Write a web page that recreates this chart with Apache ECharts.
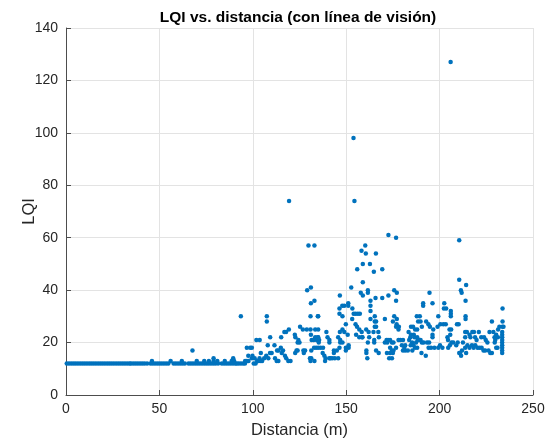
<!DOCTYPE html>
<html>
<head>
<meta charset="utf-8">
<script src="https://cdn.jsdelivr.net/npm/echarts@6/dist/echarts.min.js"></script>
<style>
  html, body { margin: 0; padding: 0; background: #ffffff; }
  #chart { width: 552px; height: 444px; }
</style>
</head>
<body>
<div id="chart"></div>
<script>
// LQI measurements vs. distance, line-of-sight link. Each entry: [distance (m), LQI]

// 0-96 m: almost flat at LQI 12
const nearPts = [
  [0.4,12],[1.6,12],[2.8,12],[4.0,12],[5.2,12],[6.4,12],[7.6,12],[8.8,12],[10.0,12],[11.2,12],
  [12.4,12],[13.6,12],[14.8,12],[16.0,12],[17.2,12],[18.4,12],[19.6,12],[20.8,12],[22.0,12],[23.2,12],
  [24.4,12],[25.6,12],[26.8,12],[28.0,12],[29.2,12],[30.4,12],[31.6,12],[32.8,12],[34.0,12],[34.8,12],
  [36.0,12],[37.2,12],[38.4,12],[39.6,12],[40.8,12],[42.0,12],[43.4,12],
  [45.2,12],[46.4,12],[47.6,12],[48.8,12],[50.0,12],[51.2,12],[52.4,12],[53.6,12],[54.8,12],
  [57.6,12],[58.8,12],[60.0,12],[61.2,12],[62.4,12],[63.6,12],
  [65.6,12],[66.8,12],[68.0,12],[69.2,12],[70.4,12],[71.6,12],
  [72.8,12],[74.0,12],[75.2,12],[76.4,12],[77.6,12],[78.8,12],[80.0,12],[81.4,12],
  [83.4,12],[84.6,12],[85.8,12],[87.0,12],[88.2,12],[89.4,12],[90.6,12],[91.4,12],
  [92.4,12],[93.6,12],[94.8,12],[95.8,12],
  [46,13],[56,13],[62,13],[67.7,17],[70,13],[74,13],[76.5,13],[79,13],[79,14],[81,13],
  [85,13],[88.7,13],[89.5,14],[90,13],[93.6,30],[95.9,13],[96.8,18],[96.8,13],[97.7,13],
  [98.6,18],[99.5,18],[97.6,15],[99.5,14],[99.8,15]
];

// 100-175 m: spread grows, first large outliers
const midPts = [
  [119.4,74],[129.8,57],[133,57],[129.1,40],[131.1,41],[133,36],[131.1,35],[130.9,30],[134.8,30],
  [107.5,30],[107.5,28],[125.3,26],[126.8,25],[128.9,25],[130.9,25],[133.4,25],[119.3,25],
  [116.9,24],[117.8,24],[115.2,22],[122.5,23],[122.8,22],[109.3,22],[124.4,21],[131.1,23],
  [133.4,22],[134.8,22],[125,20],[124,20],[131.5,21],[132.6,21],[134.2,21],[135.3,20],
  [101.9,21],[103.7,21],[108,19],[111.6,19],[115,18],[113,17],[113.7,17],[122.7,16],[123.4,17],
  [124,17],[127.1,17],[128,17],[127.3,16],[131.3,17],[132.8,18],[133.9,18],[101,14],[102.3,13],
  [103.2,13],[104.3,13],[105,13],[103.6,14],[104.3,16],[106.1,14],[107.2,15],[108.3,14],
  [109.2,16],[110.1,16],[111.9,14],[112.8,13],[113.7,13],[115.5,16],[116.2,17],[117.2,15],
  [117.9,14],[119,13],[120.2,13],[131.3,14],[133,13],[130.6,14],[130.9,13],[100.5,12],[101.5,12],
  [153.9,98],[154.4,74],[172.6,61],[160.2,57],[158.2,55],[160.5,54],[165.9,54],[158.9,50],
  [162.7,50],[155.9,48],[164.8,47],[169.3,48],[158.9,43],[152.7,41],[157.8,39],[158.9,38],
  [161.6,40],[161.6,39],[165.7,37],[169.3,37],[172.6,38],[146.6,38],[163,36],[163,34],[163,32],
  [163,29],[147.9,34],[149,34],[151.1,35],[151.1,34],[146.4,33],[146.4,31],[153.3,33],[155,31],
  [154,31],[156.2,31],[157.3,31],[148,30],[149.8,27],[148,25],[149,24],[146.6,24],[153.2,29],
  [155,27],[155.8,26],[157,25],[158.3,24],[160.7,25],[162,24],[158.5,22],[165.3,30],[165.3,28],
  [166,28],[165.3,26],[166,26],[164.6,24],[167.2,24],[170.7,29],[167.5,22],[165,21],[165,20],
  [162.3,22],[161.6,20],[157,22],[158.7,22],[155.3,23],[150.8,23],[145.7,22],[146.8,21],
  [146.8,20],[148,20],[151.3,19],[151.3,18],[170.7,20],[171.6,21],[172,20],[172.4,21],[135,30],
  [135,25],[135,22],[135.5,21],[139.4,24],[140,22],[141,21],[141,20],[135,18],[136.3,18],
  [137.6,18],[137.4,16],[138.3,15],[139,14],[138.7,13],[141,14],[141.5,14],[142.5,14],
  [143.4,17],[143.4,16],[145,17],[145.7,14],[143.9,14],[160.8,17],[160.8,16],[161.3,14],
  [166,17],[167.4,16],[171.8,16],[173,14],[174.5,14],[175,16],[149.8,18],[149.8,17],[146.4,18]
];

// 175-235 m
const farPts = [
  [205.9,127],[176.7,60],[210.5,59],[210.5,44],[211.4,40],[211.8,39],[175.7,40],[177.1,39],
  [194.6,39],[176.7,36],[191.2,35],[191.2,34],[196.2,35],[202.5,35],[202.3,33],[203.5,33],
  [206,32],[206,31],[206,30],[214.2,42],[213.9,36],[213.9,30],[213.9,29],[233.7,33],[233.7,28],
  [228,28],[231.3,25],[232,26],[233.6,26],[234.2,26],
  [175,28],[177,27],[178.2,26],[178,25],[176.7,26],[175.7,30],[177.1,29],
  [187.8,30],[189.4,30],[188.5,28],[189.8,28],[190.5,26],
  [192.8,28],[194,27],[194.8,26],[196.6,25],[196.2,23],[196.2,22],
  [199.3,30],[200.4,27],[198.9,26],
  [202,27],[203.3,27],[205.3,25],[205.7,23],[209.3,27],[210.2,27],[206.2,25],
  [184.7,26],[185.8,26],[186.9,25],[188,25],
  [183.4,24],[184.7,23],[186.2,23],[184.3,22],[186.5,22],[188,22],
  [188.7,21],[189.8,21],
  [173.5,21],[174.5,20],[175.3,20],[173.5,18],[174.5,17],[175.3,17],[176.7,18],[173.5,16],
  [178,21],[179,21],[180.4,21],[179.8,19],[181.1,18],[181.6,17],[180.4,17],[181.6,19],
  [183.7,21],[185.3,20],[184.5,19],[186,19],[187.4,20],[188.2,21],[190.5,20],[191.4,20],
  [193.3,20],[194.4,20],
  [183,17],[185.4,17],[186.8,18],[188,18],
  [190.3,16],[192.6,15],
  [194.1,18],[195.4,18],[197.2,18],
  [199.3,18],[200.2,19],[201.5,18],[204.6,18],[205.5,19],[206.4,20],[207.3,20],[208.9,19],[209.7,20],
  [204.2,22],[204.5,21],
  [210.5,16],[211.5,15],[212.5,20],
  [233.5,24],[233.5,23],[233.5,22],[233.5,21],[233.5,20],[233.5,19],[233.5,18],[233.5,17],[233.5,16],
  [213.7,24],[213.7,22],[214.6,24],[216,23],[216.5,22],[217.5,24],[218.4,24],[219,22],[219.8,21],
  [221,24],[222.3,22],[223.8,22],[224.7,21],[225.6,20],
  [226.7,24],[228.8,24],[229.4,22],[229.8,21],[230.3,23],[231.2,22],[229.5,20],
  [214.9,19],[216,18],[217.3,19],[218.2,18],[219.1,19],[220.3,18],[221.4,18],[222.5,18],
  [223.5,17],[224.4,17],[226.2,17],[227.1,16],[228,16],
  [213.7,18],[214.2,16],[211,16],[212,17],[230.3,18],[231,18]
];

const xTicks = { min: 0, max: 250, step: 50 };
const yTicks = { min: 0, max: 140, step: 20 };

const allPts = nearPts.concat(midPts, farPts);

const chart = echarts.init(document.getElementById('chart'), null, { renderer: 'canvas' });
const axisColor = '#4d4d4d';
const textColor = '#262626';
const gridColor = '#e3e3e3';
const font = '"Liberation Sans", Arial, Helvetica, sans-serif';

chart.setOption({
  animation: false,
  backgroundColor: '#ffffff',
  title: {
    text: 'LQI vs. distancia (con línea de visión)',
    left: 293,
    top: 5,
    textAlign: 'center',
    textStyle: { fontFamily: font, fontSize: 15.5, fontWeight: 'bold', color: '#000000' }
  },
  grid: { left: 66, right: 19, top: 28, bottom: 48, containLabel: false },
  xAxis: {
    type: 'value',
    min: xTicks.min, max: xTicks.max, interval: xTicks.step,
    name: 'Distancia (m)',
    nameLocation: 'middle',
    nameGap: 27,
    nameMoveOverlap: false,
    nameTextStyle: { fontFamily: font, fontSize: 16.5, color: textColor },
    axisLine: { show: true, onZero: false, lineStyle: { color: axisColor, width: 1 } },
    axisTick: { show: true, inside: true, length: 5, lineStyle: { color: axisColor } },
    axisLabel: { fontFamily: font, fontSize: 14, color: textColor, margin: 7 },
    splitLine: { show: true, lineStyle: { color: gridColor, width: 1 } }
  },
  yAxis: {
    type: 'value',
    min: yTicks.min, max: yTicks.max, interval: yTicks.step,
    name: 'LQI',
    nameLocation: 'middle',
    nameGap: 28,
    nameMoveOverlap: false,
    nameTextStyle: { fontFamily: font, fontSize: 16.5, color: textColor },
    axisLine: { show: true, onZero: false, lineStyle: { color: axisColor, width: 1 } },
    axisTick: { show: true, inside: true, length: 5, lineStyle: { color: axisColor } },
    axisLabel: { fontFamily: font, fontSize: 14, color: textColor, margin: 8 },
    splitLine: { show: true, lineStyle: { color: gridColor, width: 1 } }
  },
  series: [{
    type: 'scatter',
    data: allPts,
    symbol: 'circle',
    symbolSize: 4.5,
    itemStyle: { color: '#0072BD', opacity: 1 },
    emphasis: { disabled: true }
  }]
});
</script>
</body>
</html>
